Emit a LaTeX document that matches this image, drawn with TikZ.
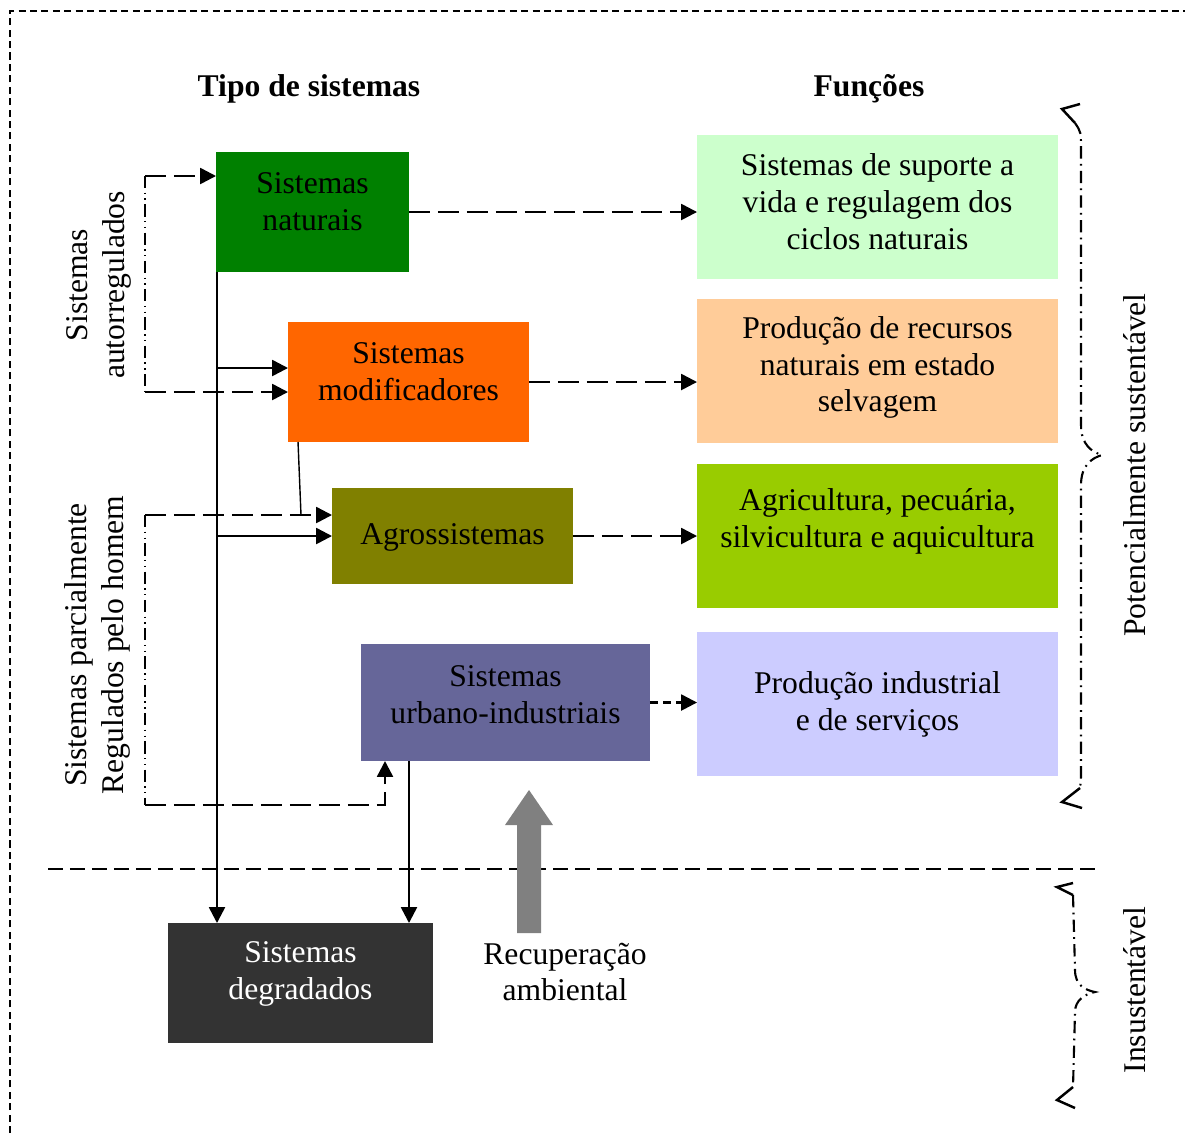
\documentclass[tikz,border=0pt]{standalone}
\usepackage{fontspec}
\setmainfont{Liberation Serif}
\usetikzlibrary{arrows.meta,positioning,calc}

\definecolor{verdenat}{HTML}{008000}
\definecolor{laranjamod}{HTML}{FF6600}
\definecolor{oliva}{HTML}{808000}
\definecolor{roxourb}{HTML}{666699}
\definecolor{cinzadeg}{HTML}{333333}
\definecolor{fsuporte}{HTML}{CCFFCC}
\definecolor{frecursos}{HTML}{FFCC99}
\definecolor{fagri}{HTML}{99CC00}
\definecolor{findustria}{HTML}{CCCCFF}
\definecolor{cinzaseta}{HTML}{808080}

\tikzset{
  caixa/.style={rectangle, inner sep=0pt, outer sep=0pt},
  txt/.style={align=center},
  titulo/.style={font=\fontsize{18}{21}\selectfont\bfseries},
  seta/.style={line width=1.4pt, -{Triangle[length=9pt,width=9pt]}},
  tseta/.style={seta, dash pattern=on 12pt off 4.5pt},
  pontilhado/.style={line width=0.9pt, dash pattern=on 7pt off 2.5pt on 0.8pt off 2.5pt on 0.8pt off 2.5pt},
  chave/.style={line width=1.2pt, dash pattern=on 7pt off 3pt on 1pt off 3pt},
  ponta/.style={line width=1.4pt}
}

\begin{document}
\begin{tikzpicture}[x=0.02cm, y=-0.02cm, font=\fontsize{18}{21}\selectfont]
\useasboundingbox (0,0) rectangle (1185,1133);
% moldura
\draw[line width=0.8pt, dash pattern=on 4pt off 2.5pt] (10,1133) -- (10,11) -- (1185,11);

% titulos
\node[titulo] (ttipo) at (309,89) {Tipo de sistemas};
\node[titulo] (tfunc) at (869,89) {Funções};

% tipos de sistemas
\node[caixa, fill=verdenat, minimum width=3.86cm, minimum height=2.4cm,
  label={[txt,yshift=.2cm]center:Sistemas\\naturais}] (nat) at (312.5,212) {};
\node[caixa, fill=laranjamod, minimum width=4.82cm, minimum height=2.4cm,
  label={[txt,yshift=.2cm]center:Sistemas\\modificadores}] (mod) at (408.5,382) {};
\node[caixa, fill=oliva, minimum width=4.82cm, minimum height=1.92cm,
  label={[txt,yshift=-.02cm]center:Agrossistemas}] (agro) at (452.5,536) {};
\node[caixa, fill=roxourb, minimum width=5.78cm, minimum height=2.34cm,
  label={[txt,yshift=.16cm]center:Sistemas\\urbano-industriais}] (urb) at (505.5,702.5) {};
\node[caixa, fill=cinzadeg, minimum width=5.3cm, minimum height=2.4cm,
  label={[txt,text=white,yshift=.19cm]center:Sistemas\\degradados}] (deg) at (300.5,983) {};

% funcoes
\node[caixa, fill=fsuporte, minimum width=7.22cm, minimum height=2.88cm,
  label={[txt,yshift=.1cm]center:Sistemas de suporte a\\vida e regulagem dos\\ciclos naturais}] (f1) at (877.5,207) {};
\node[caixa, fill=frecursos, minimum width=7.22cm, minimum height=2.88cm,
  label={[txt,yshift=.07cm]center:Produção de recursos\\naturais em estado\\selvagem}] (f2) at (877.5,371) {};
\node[caixa, fill=fagri, minimum width=7.22cm, minimum height=2.88cm,
  label={[txt,yshift=.3cm]center:Agricultura, pecuária,\\silvicultura e aquicultura}] (f3) at (877.5,536) {};
\node[caixa, fill=findustria, minimum width=7.22cm, minimum height=2.88cm,
  label={[txt,yshift=0cm]center:Produção industrial\\e de serviços}] (f4) at (877.5,704) {};

% textos laterais
\node[txt, rotate=90] (lauto) at (99,285) {Sistemas\\autorregulados};
\node[txt, rotate=90] (lparc) at (97.5,645) {Sistemas parcialmente\\Regulados pelo homem};
\node[rotate=90] (lpot) at (1135,465) {Potencialmente sustentável};
\node[rotate=90] (linsu) at (1135,990) {Insustentável};
\node[txt] (lrec) at (565,972) {Recuperação\\ambiental};

% ligacoes
\coordinate (tronco) at (217,272);
\draw[seta] (tronco) -- (tronco |- deg.north);
\draw[seta] (tronco |- 0,368) -- (mod.west |- 0,368);
\draw[seta] (tronco |- agro.west) -- (agro.west);
\coordinate (u1) at (409,761);
\draw[seta] (u1) -- (u1 |- deg.north);

\draw[tseta] (nat.east) -- (nat.east -| f1.west);
\draw[tseta] (mod.east) -- (mod.east -| f2.west);
\draw[tseta] (agro.east) -- (agro.east -| f3.west);
\draw[tseta, dash pattern=on 4.5pt off 3pt] (urb.east) -- (urb.east -| f4.west);

\coordinate (a1) at (145,176);
\coordinate (a2) at (145,392);
\draw[pontilhado] (a1) -- (a2);
\draw[tseta] (a1) -- (a1 -| nat.west);
\draw[tseta] (a2) -- (a2 -| mod.west);

\coordinate (p1) at (145,515);
\coordinate (p2) at (145,805);
\coordinate (p3) at (385,805);
\draw[pontilhado] (p1) -- (p2);
\draw[tseta] (p1) -- (p1 -| agro.west);
\draw[tseta] (p2) -- (p3) -- (p3 |- urb.south);
\draw[line width=0.8pt] ($(mod.south west)+(10,0)$) -- (p1 -| 301,0);

% limite
\draw[line width=1.1pt, dash pattern=on 8.5pt off 4pt] (48,869) -- (1100,869);

% recuperacao
\fill[cinzaseta] (517,933) -- (517,825) -- (505,825) -- (529,790) -- (553,825) -- (541,825) -- (541,933) -- cycle;

% chaves
\draw[chave] (1075,123) .. controls (1081,132) .. (1081,150) -- (1081,425) .. controls (1081,445) and (1092,452) .. (1102,455) .. controls (1092,458) and (1081,465) .. (1081,485) -- (1081,770) .. controls (1081,780) .. (1080,788);
\draw[ponta] (1080,104) -- (1062,109) -- (1075,123);
\draw[ponta] (1080,788) -- (1062,802) -- (1082,808);
\draw[chave] (1073,895) -- (1075,970) .. controls (1075,985) and (1085,990) .. (1095,992) .. controls (1085,994) and (1075,1000) .. (1075,1012) -- (1073,1087);
\draw[ponta] (1073,883) -- (1057,887) -- (1073,895);
\draw[ponta] (1073,1087) -- (1057,1100) -- (1075,1108);

\end{tikzpicture}
\end{document}
